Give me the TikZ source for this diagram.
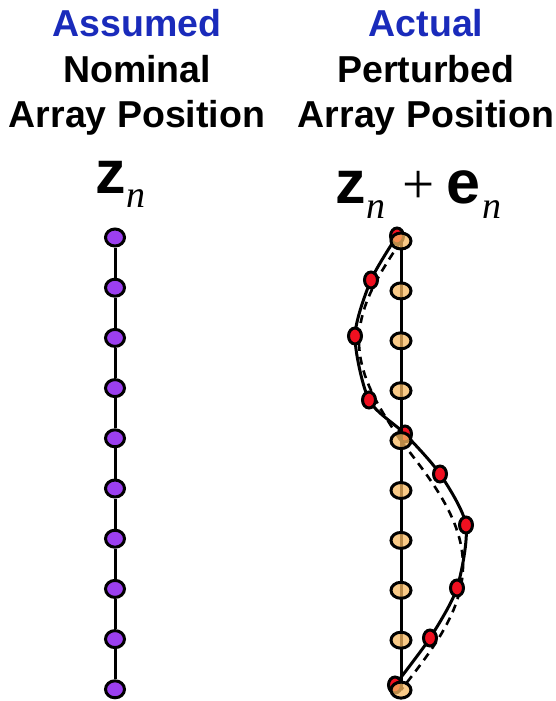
\documentclass[tikz,border=0pt]{standalone}
\usepackage{fontspec}
\setmainfont{Liberation Sans}
\newfontfamily\serifrm{Liberation Serif}
\usetikzlibrary{shapes.geometric}
\definecolor{titleblue}{HTML}{1A2BBB}
\definecolor{dotpurple}{HTML}{9B3FEF}
\definecolor{dotorange}{HTML}{F7B860}
\definecolor{dotred}{HTML}{F01020}
\begin{document}
\begin{tikzpicture}[x=1pt,y=-1pt]
\useasboundingbox (0,0) rectangle (556,701);
\tikzset{
  title/.style={font=\fontsize{37.5}{40}\selectfont\bfseries, anchor=base, inner sep=0pt},
  bigsym/.style={font=\fontsize{61}{61}\selectfont\bfseries, anchor=base west, inner sep=0pt},
  subidx/.style={font=\serifrm\itshape\fontsize{38}{38}\selectfont, anchor=base west, inner sep=0pt},
  plussym/.style={font=\serifrm\fontsize{57}{57}\selectfont, anchor=base west, inner sep=0pt},
  purpledot/.style={ellipse, draw=black, line width=3pt, fill=dotpurple, minimum width=19pt, minimum height=17pt, inner sep=0pt},
  orangedot/.style={ellipse, draw=black, line width=3pt, fill=dotorange, fill opacity=0.75, minimum width=20pt, minimum height=16pt, inner sep=0pt},
  reddot/.style={ellipse, draw=black, line width=3pt, fill=dotred, minimum width=13pt, minimum height=16pt, inner sep=0pt},
  link/.style={draw=black, line width=3pt},
  curveline/.style={draw=black, line width=3pt},
  dashline/.style={draw=black, line width=2.6pt, dash pattern=on 8pt off 6pt}
}
% titles
\node[title, text=titleblue] (t1) at (137,37) {Assumed};
\node[title] (t2) at (137,82) {Nominal};
\node[title] (t3) at (137,127) {Array Position};
\node[title, text=titleblue] (t4) at (426,37) {Actual};
\node[title] (t5) at (426,82) {Perturbed};
\node[title] (t6) at (426,127) {Array Position};
% math labels
\node[bigsym] (zl) at (95,193) {z};
\node[subidx] (nl) at (126,207) {n};
\node[bigsym] (zr) at (335,203) {z};
\node[subidx] (nr1) at (366,218) {n};
\node[plussym] (pl) at (402,203) {+};
\node[bigsym] (er) at (446,203) {e};
\node[subidx] (nr2) at (482,218) {n};
% left column
\foreach \i in {0,...,9} {
  \node[purpledot] (p\i) at (115,{237.5+50.2*\i}) {};
}
\foreach \i [evaluate=\i as \j using int(\i+1)] in {0,...,8} {
  \draw[link] (p\i) -- (p\j);
}
% dashed curves
\draw[dashline] plot[domain=0:1, samples=50] ({401-42*sin(180*\x)}, {241+200*\x});
\draw[dashline] plot[domain=0:1, samples=50] ({401+62*sin(180*\x)}, {441+249*\x});
% red positions
\coordinate (r0) at (397,236);
\coordinate (r1) at (371,280);
\coordinate (r2) at (355,336);
\coordinate (r3) at (369,400);
\coordinate (r4) at (405,434);
\coordinate (r5) at (440,474);
\coordinate (r6) at (466,525);
\coordinate (r7) at (457,588);
\coordinate (r8) at (430,638);
\coordinate (r9) at (395,685);
\draw[curveline] plot[smooth, tension=0.45] coordinates {(r0) (r1) (r2) (r3) (r4) (r5) (r6) (r7) (r8) (r9)};
\foreach \i in {0,...,9} {
  \node[reddot] (rd\i) at (r\i) {};
}
% orange column
\foreach \i in {0,...,9} {
  \coordinate (oc\i) at (401,{241+49.9*\i});
}
\draw[link] (oc0) -- (oc9);
\foreach \i in {0,...,9} {
  \node[orangedot] (o\i) at (oc\i) {};
}
\end{tikzpicture}
\end{document}
